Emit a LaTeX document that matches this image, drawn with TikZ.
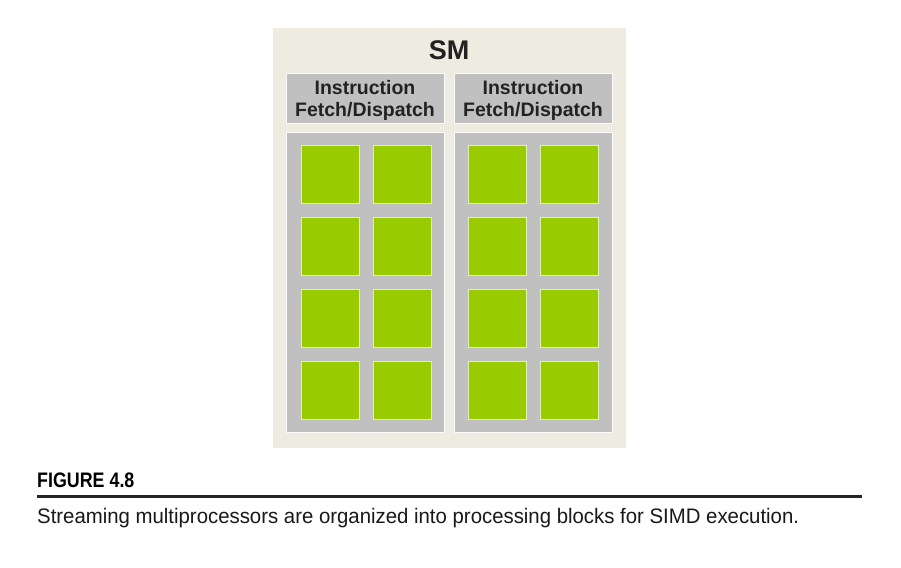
\documentclass[tikz,border=0pt]{standalone}
\usepackage{fontspec}
\setmainfont{Liberation Sans}
\newfontfamily\figfont[FakeStretch=0.85]{Liberation Sans}
\newfontfamily\capfont[FakeStretch=0.97]{Liberation Sans}
\definecolor{smbg}{HTML}{EEEBE0}
\definecolor{panelgray}{HTML}{C0C0C0}
\definecolor{coregreen}{HTML}{99CC00}
\definecolor{txtdark}{HTML}{222222}
\tikzset{
  smpanel/.style={fill=smbg, draw=none},
  graybox/.style={fill=panelgray, draw=white!92!panelgray, line width=0.8pt},
  core/.style={fill=coregreen, draw=white!70!coregreen, line width=1pt, minimum width=58pt, minimum height=58pt, inner sep=0pt, anchor=north west},
  hdrtext/.style={font=\bfseries\fontsize{19.5}{22}\selectfont, text=txtdark, align=center},
}
\begin{document}
\begin{tikzpicture}[x=1pt,y=-1pt]
\useasboundingbox[fill=white] (0,0) rectangle (901,567);
% SM panel
\fill[smpanel] (273,28) rectangle (626,448);
\node[font=\bfseries\fontsize{27}{30}\selectfont, text=txtdark] (sm) at (449,50) {SM};
% header boxes
\draw[graybox] (286,73) rectangle (444,123);
\draw[graybox] (454,73) rectangle (612,123);
\node[hdrtext] (hl) at (365,100.5) {Instruction\\Fetch/Dispatch};
\node[hdrtext] (hr) at (533,100.5) {Instruction\\Fetch/Dispatch};
% lower panels
\draw[graybox] (286,132) rectangle (444,432);
\draw[graybox] (454,132) rectangle (612,432);
% cores
\foreach \r in {0,1,2,3}{
  \foreach \c/\x in {0/301,1/373,2/468,3/540}{
    \node[core] (c\r\c) at (\x,145+72*\r) {};
  }
}
% caption
\node[anchor=base west, inner sep=0pt, font=\figfont\bfseries\fontsize{21}{24}\selectfont] (fig) at (37,487) {FIGURE 4.8};
\draw[line width=2.4pt, black!85] (37,496.5) -- (862,496.5);
\node[anchor=base west, inner sep=0pt, text=black!90, font=\capfont\fontsize{21}{24}\selectfont] (cap) at (37,523) {Streaming multiprocessors are organized into processing blocks for SIMD execution.};
\end{tikzpicture}
\end{document}
